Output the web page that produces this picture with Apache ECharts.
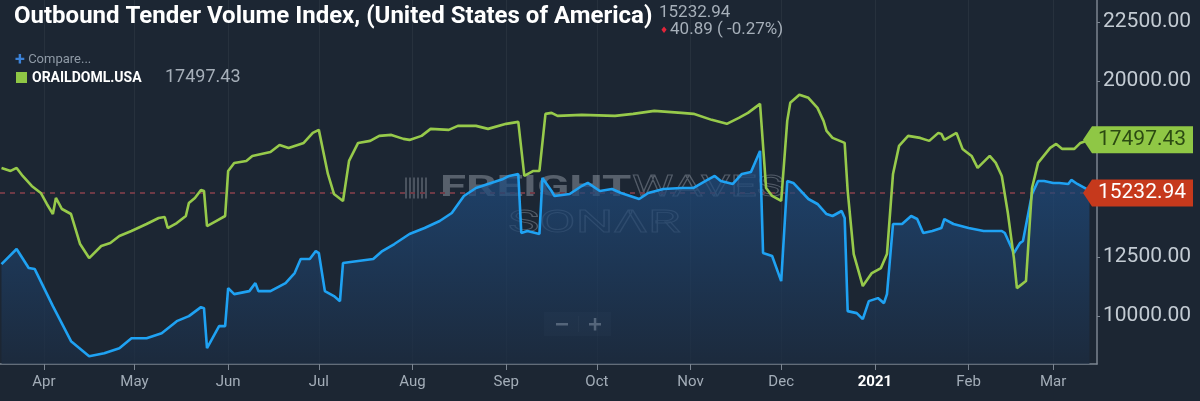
<!DOCTYPE html>
<html><head><meta charset="utf-8">
<script src="https://cdn.jsdelivr.net/npm/echarts@6/dist/echarts.min.js"></script>
<style>html,body{margin:0;padding:0;background:#1c2633;}#c{width:1200px;height:401px;}</style>
</head><body><div id="c"></div>
<script>
const otviDates = ['2020-03-18','2020-03-23','2020-03-27','2020-03-29','2020-04-04','2020-04-10','2020-04-16','2020-04-21','2020-04-26','2020-04-30',
'2020-05-05','2020-05-10','2020-05-15','2020-05-19','2020-05-23','2020-05-24','2020-05-25','2020-05-29','2020-05-31',
'2020-06-01','2020-06-03','2020-06-08','2020-06-10','2020-06-11','2020-06-15','2020-06-20','2020-06-23','2020-06-25','2020-06-28','2020-06-30',
'2020-07-01','2020-07-03','2020-07-06','2020-07-08','2020-07-09','2020-07-14','2020-07-19','2020-07-22','2020-07-26','2020-07-31',
'2020-08-05','2020-08-10','2020-08-14','2020-08-18','2020-08-22','2020-08-26','2020-08-31',
'2020-09-02','2020-09-05','2020-09-06','2020-09-08','2020-09-12','2020-09-13','2020-09-16','2020-09-17','2020-09-22','2020-09-26','2020-09-28',
'2020-10-02','2020-10-06','2020-10-09','2020-10-15','2020-10-18','2020-10-23','2020-10-29',
'2020-11-02','2020-11-06','2020-11-09','2020-11-11','2020-11-15','2020-11-18','2020-11-21','2020-11-24','2020-11-25','2020-11-28',
'2020-12-01','2020-12-03','2020-12-05','2020-12-10','2020-12-13','2020-12-16','2020-12-18','2020-12-21','2020-12-22','2020-12-23','2020-12-26','2020-12-28','2020-12-30',
'2021-01-02','2021-01-04','2021-01-05','2021-01-07','2021-01-10','2021-01-13','2021-01-15','2021-01-17','2021-01-20','2021-01-23','2021-01-24','2021-01-27',
'2021-02-01','2021-02-06','2021-02-12','2021-02-13','2021-02-16','2021-02-18','2021-02-19','2021-02-22','2021-02-24','2021-02-26',
'2021-03-01','2021-03-03','2021-03-06','2021-03-07','2021-03-09','2021-03-12','2021-03-13'];
const otviValues = [12206,12845,12036,11993,10417,8927,8288,8415,8628,9054,
9054,9267,9778,9991,10375,10332,8628,9565,9565,
11184,10928,11056,11397,11056,11056,11397,11823,12419,12419,12760,
12675,11056,10843,10630,12249,12334,12419,12760,13058,13484,
13739,14037,14378,15102,15443,15613,15826,
15954,16039,13526,13612,13484,15869,15315,15102,15187,15528,15656,
15315,15400,15230,14974,15230,15400,15443,
15443,15741,15954,15741,15613,16039,16124,17019,12675,12547,
11482,15741,15656,14974,14761,14335,14250,14463,14165,10204,10119,9863,10630,
10758,10545,10928,13910,13910,14250,14122,13526,13612,13739,14122,13910,
13739,13612,13612,13526,12675,13100,13186,15187,15741,15741,
15656,15656,15613,15784,15613,15400,15232.94];

const orailDates = ['2020-03-18','2020-03-21','2020-03-23','2020-03-25','2020-03-28','2020-03-31','2020-04-02','2020-04-04','2020-04-05','2020-04-07',
'2020-04-10','2020-04-11','2020-04-13','2020-04-16','2020-04-20','2020-04-23','2020-04-26','2020-04-30',
'2020-05-05','2020-05-09','2020-05-11','2020-05-12','2020-05-15','2020-05-18','2020-05-19','2020-05-21','2020-05-23','2020-05-24','2020-05-25','2020-05-28','2020-05-31',
'2020-06-01','2020-06-03','2020-06-07','2020-06-09','2020-06-15','2020-06-18','2020-06-21','2020-06-26','2020-06-29',
'2020-07-01','2020-07-04','2020-07-06','2020-07-09','2020-07-11','2020-07-14','2020-07-18','2020-07-21','2020-07-25','2020-07-29','2020-07-31',
'2020-08-04','2020-08-07','2020-08-13','2020-08-16','2020-08-22','2020-08-26',
'2020-09-01','2020-09-05','2020-09-07','2020-09-10','2020-09-12','2020-09-14','2020-09-16','2020-09-18','2020-09-26',
'2020-10-07','2020-10-13','2020-10-20','2020-10-29',
'2020-11-02','2020-11-08','2020-11-13','2020-11-17','2020-11-20','2020-11-24','2020-11-26','2020-11-28',
'2020-12-01','2020-12-03','2020-12-04','2020-12-07','2020-12-10','2020-12-13','2020-12-15','2020-12-16','2020-12-18','2020-12-22','2020-12-23','2020-12-25','2020-12-28','2020-12-31',
'2021-01-03','2021-01-05','2021-01-07','2021-01-09','2021-01-12','2021-01-16','2021-01-19','2021-01-22','2021-01-23','2021-01-24','2021-01-28','2021-01-30',
'2021-02-02','2021-02-04','2021-02-08','2021-02-10','2021-02-12','2021-02-14','2021-02-16','2021-02-17','2021-02-20','2021-02-22','2021-02-24','2021-02-28',
'2021-03-02','2021-03-04','2021-03-08','2021-03-10','2021-03-13'];
const orailValues = [16295,16167,16295,15954,15528,15230,14761,14335,15017,14548,
14335,13910,13058,12462,12973,13100,13398,13612,
13910,14165,14207,13739,13952,14250,14804,15017,15358,15315,13824,14037,14250,
16167,16508,16593,16806,16976,17274,17147,17359,17785,
17913,16039,15187,14889,16593,17359,17445,17658,17700,17530,17487,
17658,17956,17913,18083,18083,17956,
18169,18254,15954,16167,16167,18595,18637,18509,18552,
18509,18595,18722,18637,
18595,18339,18169,18424,18637,19020,15443,15102,
14889,18296,19063,19404,19276,18850,18296,17870,17572,17359,15315,12632,11269,11823,
12036,12632,16039,17232,17658,17572,17445,17785,17743,17487,17785,17104,
16806,16295,16806,16508,15954,14378,12462,11184,11482,15443,16508,17147,
17317,17104,17104,17359,17497.43];

const monthTicks = ['2020-04-01','2020-05-01','2020-06-01','2020-07-01','2020-08-01','2020-09-01','2020-10-01','2020-11-01','2020-12-01','2021-01-01','2021-02-01','2021-03-01'];
const monthLabels = ['Apr','May','Jun','Jul','Aug','Sep','Oct','Nov','Dec','2021','Feb','Mar'];
const yTickValues = [10000, 12500, 20000, 22500];
const otviLast = 15232.94, otviChange = '40.89', otviChangePct = '-0.27%';
const orailLast = 17497.43;
const otviName = 'Outbound Tender Volume Index, (United States of America)';
const orailName = 'ORAILDOML.USA';

const DAY = 86400000;
const ts = d => Date.UTC(+d.slice(0, 4), +d.slice(5, 7) - 1, +d.slice(8, 10));
const tickTimes = monthTicks.map(ts);
const labelFor = {};
tickTimes.forEach((t, i) => { labelFor[t] = monthLabels[i]; });
const xMin = ts('2020-03-17') + DAY / 2;
const xMax = ts('2021-03-15') + DAY / 2;

const FONT = 'Roboto, "Noto Sans", sans-serif';

// watermark (decorative)
const WM_FILL = 'rgba(160,168,178,0.45)', WM_STROKE = 'rgba(160,168,178,0.42)';
const wm = [];
for (let i = 0; i < 6; i++) wm.push({type: 'rect', shape: {x: i * 4, y: 0, width: 2, height: 21}, style: {fill: 'rgba(160,168,178,0.35)'}});
wm.push({type: 'text', x: 35, y: -4, scaleX: 1.58, style: {text: 'FREIGHT', font: 'bold 30px ' + FONT, fill: WM_FILL}});
wm.push({type: 'text', x: 227, y: -4, scaleX: 1.55, style: {text: 'WAVES', font: '30px ' + FONT, fill: 'rgba(0,0,0,0)', stroke: WM_STROKE, lineWidth: 0.9}});
wm.push({type: 'text', x: 103, y: 31, scaleX: 1.65, style: {text: 'SONΛR', font: '32px ' + FONT, fill: 'rgba(0,0,0,0)', stroke: WM_STROKE, lineWidth: 0.9}});

const chart = echarts.init(document.getElementById('c'), null, {renderer: 'canvas'});
chart.setOption({
  backgroundColor: '#1c2633',
  animation: false,
  grid: {left: 0, right: 103, top: 0, bottom: 37, containLabel: false},
  xAxis: {
    type: 'value', min: xMin, max: xMax,
    axisLine: {show: true, lineStyle: {color: '#7b8591', width: 1.5}},
    axisTick: {show: true, customValues: tickTimes, length: 6, lineStyle: {color: '#7b8591'}},
    splitLine: {show: true, lineStyle: {color: 'rgba(255,255,255,0.05)', width: 1}},
    axisLabel: {
      customValues: tickTimes, margin: 11, fontSize: 15, fontFamily: FONT, color: '#a3adb8',
      formatter: v => labelFor[v] === '2021' ? '{y|2021}' : (labelFor[v] || ''),
      rich: {y: {fontSize: 15, fontFamily: FONT, color: '#ffffff', fontWeight: 'bold'}}
    }
  },
  yAxis: {
    type: 'value', position: 'right', min: 7956, max: 23437,
    axisLine: {show: true, lineStyle: {color: '#7b8591', width: 1.5}},
    axisTick: {show: true, customValues: yTickValues, length: 3, inside: false, lineStyle: {color: '#7b8591'}},
    splitLine: {show: false},
    axisLabel: {customValues: yTickValues, margin: 6, fontSize: 21, fontFamily: FONT, color: '#c3cbd3',
      formatter: v => v.toFixed(2)}
  },
  series: [
    {
      name: otviName, type: 'line', showSymbol: false, symbol: 'none', z: 3,
      data: otviDates.map((d, i) => [ts(d), otviValues[i]]),
      lineStyle: {color: '#1fa2f3', width: 2.6},
      itemStyle: {color: '#1fa2f3'},
      areaStyle: {color: new echarts.graphic.LinearGradient(0, 0, 0, 1, [
        {offset: 0, color: '#1f5088'}, {offset: 1, color: '#1c2c41'}])},
      markLine: {
        silent: true, symbol: 'none', z: 2,
        lineStyle: {color: '#6e3a46', type: [5, 5], width: 2},
        label: {show: false},
        data: [{yAxis: otviLast}]
      },
      markPoint: {
        silent: true, z: 10,
        symbol: 'path://M0,13.5L9,0L110,0L110,27L9,27Z', symbolSize: [110, 27], symbolOffset: [41, 0],
        itemStyle: {color: '#c6391c'},
        label: {show: true, position: 'inside', offset: [4, 0], color: '#ffffff', fontSize: 21, fontFamily: FONT,
          formatter: p => p.value.toFixed(2)},
        data: [{coord: [xMax, otviLast], value: otviLast}]
      }
    },
    {
      name: orailName, type: 'line', showSymbol: false, symbol: 'none', z: 4,
      data: orailDates.map((d, i) => [ts(d), orailValues[i]]),
      lineStyle: {color: '#97ca4b', width: 2.6},
      itemStyle: {color: '#97ca4b'},
      markPoint: {
        silent: true, z: 10,
        symbol: 'path://M0,13.5L9,0L110,0L110,27L9,27Z', symbolSize: [110, 27], symbolOffset: [41, 0],
        itemStyle: {color: '#8fc745'},
        label: {show: true, position: 'inside', offset: [4, 0], color: '#2b4a12', fontSize: 21, fontFamily: FONT,
          formatter: p => p.value.toFixed(2)},
        data: [{coord: [xMax, orailLast], value: orailLast}]
      }
    }
  ],
  graphic: [
    {type: 'group', left: 405, top: 173, z: 1, silent: true, children: wm},
    {type: 'group', left: 544, top: 312, z: 20, silent: true, children: [
      {type: 'rect', shape: {x: 0, y: 0, width: 67, height: 24}, style: {fill: 'rgba(40,52,66,0.85)'}},
      {type: 'rect', shape: {x: 34, y: 4, width: 1, height: 16}, style: {fill: 'rgba(255,255,255,0.08)'}},
      {type: 'rect', shape: {x: 12, y: 11, width: 12, height: 2.5}, style: {fill: '#d6dbe0'}},
      {type: 'rect', shape: {x: 45, y: 11, width: 12, height: 2.5}, style: {fill: '#d6dbe0'}},
      {type: 'rect', shape: {x: 49.8, y: 6, width: 2.5, height: 12.5}, style: {fill: '#d6dbe0'}}
    ]},
    {type: 'text', left: 14, top: 5, z: 30, style: {text: otviName, font: 'bold 24px ' + FONT, fill: '#ffffff'}},
    {type: 'text', left: 659, top: 4, z: 30, style: {text: otviLast.toFixed(2), font: '17px ' + FONT, fill: '#a6afb9'}},
    {type: 'text', left: 660, top: 21, z: 30, style: {
      text: '{a|\u2666}{b|' + otviChange + ' ( ' + otviChangePct + ')}',
      rich: {a: {fontSize: 9, fill: '#e0253a', fontFamily: 'DejaVu Sans', padding: [2, 2, 0, 0]}, b: {fontSize: 17, fontFamily: FONT, fill: '#a6afb9'}}}},
    {type: 'text', left: 15, top: 51, z: 30, style: {
      text: '{a|+} {b|Compare...}',
      rich: {a: {fontSize: 18, fill: '#3b82d8', fontFamily: FONT, fontWeight: 'bold'}, b: {fontSize: 13, fill: '#8f9aa6', fontFamily: FONT}}}},
    {type: 'rect', left: 16, top: 72, z: 30, shape: {width: 11, height: 11}, style: {fill: '#8fc745'}},
    {type: 'text', left: 32, top: 71, z: 30, style: {text: orailName, font: 'bold 14px ' + FONT, fill: '#ffffff'}},
    {type: 'text', left: 165, top: 68, z: 30, style: {text: orailLast.toFixed(2), font: '18px ' + FONT, fill: '#a6afb9'}}
  ]
});
</script></body></html>
